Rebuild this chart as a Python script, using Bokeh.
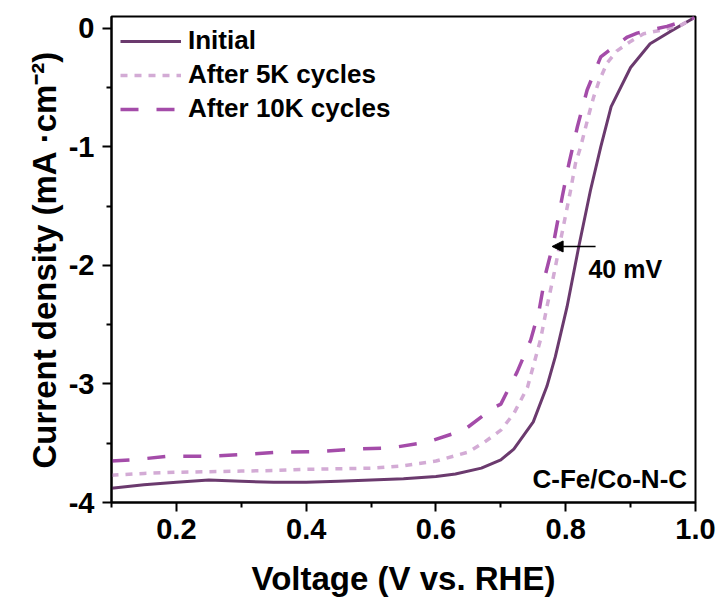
from bokeh.plotting import figure
from bokeh.models import (FixedTicker, Legend, LegendItem, Arrow, NormalHead,
                          Range1d, Label)
from bokeh.embed import file_html
from bokeh.resources import INLINE

# LSV polarisation curves of C-Fe/Co-N-C before and after cycling
v_initial = [0.10, 0.15, 0.20, 0.25, 0.30, 0.35, 0.40, 0.45, 0.50, 0.55, 0.60,
             0.63, 0.67, 0.70, 0.72, 0.75, 0.771, 0.784, 0.802, 0.820, 0.838,
             0.854, 0.870, 0.900, 0.930, 0.960, 0.998]
j_initial = [-3.88, -3.85, -3.83, -3.81, -3.82, -3.83, -3.83, -3.82, -3.81, -3.80, -3.78,
             -3.76, -3.71, -3.64, -3.55, -3.32, -3.02, -2.77, -2.35, -1.845, -1.37,
             -1.00, -0.66, -0.33, -0.13, -0.03, 0.09]

v_5k = [0.10, 0.15, 0.20, 0.25, 0.30, 0.35, 0.40, 0.45, 0.50, 0.55, 0.60, 0.65,
        0.675, 0.70, 0.72, 0.741, 0.761, 0.771, 0.782, 0.792, 0.807, 0.815, 0.823,
        0.836, 0.843, 0.851, 0.864, 0.879, 0.900, 0.920, 0.946, 0.977, 0.998]
j_5k = [-3.77, -3.755, -3.745, -3.74, -3.735, -3.73, -3.72, -3.715, -3.71, -3.69, -3.65, -3.575,
        -3.49, -3.39, -3.25, -3.03, -2.63, -2.35, -2.07, -1.79, -1.38, -1.14, -1.00,
        -0.72, -0.58, -0.45, -0.29, -0.19, -0.11, -0.045, -0.017, 0.025, 0.09]

v_10k = [0.10, 0.134, 0.186, 0.25, 0.30, 0.36, 0.417, 0.473, 0.53, 0.587, 0.643, 0.689,
         0.70, 0.725, 0.746, 0.759, 0.769, 0.782, 0.795, 0.805, 0.818, 0.833, 0.854,
         0.866, 0.895, 0.910, 0.956, 0.987, 0.998]
j_10k = [-3.65, -3.64, -3.61, -3.61, -3.595, -3.575, -3.57, -3.55, -3.54, -3.49, -3.39, -3.20,
         -3.17, -2.90, -2.63, -2.38, -2.07, -1.79, -1.41, -1.14, -0.83, -0.52, -0.24,
         -0.19, -0.073, -0.04, 0.017, 0.068, 0.09]

series_names = ["Initial", "After 5K cycles", "After 10K cycles"]

x_ticks = [0.2, 0.4, 0.6, 0.8, 1.0]
x_minor = [0.1, 0.3, 0.5, 0.7, 0.9]
y_ticks = [-4, -3, -2, -1, 0]
y_minor = [-3.5, -2.5, -1.5, -0.5]

# half-wave potential shift marker
shift_y = -1.84
shift_from = 0.846
shift_to = 0.779
shift_text = "40 mV"
sample_text = "C-Fe/Co-N-C"

FONT = "Liberation Sans"
C_INIT = "#6b3a6e"
C_5K = "#d3abd5"
C_10K = "#a44ca9"

p = figure(width=719, height=601, output_backend="svg", toolbar_location=None,
           x_range=Range1d(0.1, 1.0), y_range=Range1d(-4.0, 0.1),
           min_border_left=111, min_border_right=24, min_border_top=16,
           min_border_bottom=99)
p.grid.visible = False
p.background_fill_color = "white"
p.border_fill_color = "white"
p.outline_line_color = "black"
p.outline_line_width = 2

r0 = p.line(v_initial, j_initial, line_color=C_INIT, line_width=3)
r1 = p.line(v_5k, j_5k, line_color=C_5K, line_width=3.5, line_dash="7 7")
r2 = p.line(v_10k, j_10k, line_color=C_10K, line_width=3.5, line_dash="18 18")

for ax in (p.xaxis[0], p.yaxis[0]):
    ax.axis_line_width = 2
    ax.major_tick_line_width = 2
    ax.minor_tick_line_width = 2
    ax.major_tick_out = 9
    ax.major_tick_in = 0
    ax.minor_tick_out = 5
    ax.minor_tick_in = 0
    ax.major_label_text_font = FONT
    ax.major_label_text_font_style = "bold"
    ax.major_label_text_font_size = "29px"
    ax.major_label_text_color = "black"
    ax.axis_label_text_font = FONT
    ax.axis_label_text_font_style = "bold"
    ax.axis_label_text_font_size = "33px"
    ax.axis_label_text_color = "black"

p.xaxis.ticker = FixedTicker(ticks=x_ticks, minor_ticks=x_minor)
p.yaxis.ticker = FixedTicker(ticks=y_ticks, minor_ticks=y_minor)
p.xaxis.major_label_overrides = {t: f"{t:.1f}" for t in x_ticks}
p.yaxis.major_label_overrides = {t: str(t) for t in y_ticks}
p.xaxis.major_label_standoff = 7
p.yaxis.major_label_standoff = 8
p.xaxis.axis_label = "Voltage (V vs. RHE)"
p.yaxis.axis_label = "Current density (mA \u00b7cm\u207b\u00b2)"
p.xaxis.axis_label_standoff = 18
p.yaxis.axis_label_standoff = 3

legend = Legend(items=[LegendItem(label=series_names[0], renderers=[r0]),
                       LegendItem(label=series_names[1], renderers=[r1]),
                       LegendItem(label=series_names[2], renderers=[r2])],
                location="top_left", margin=9, padding=0, spacing=3,
                glyph_width=61, glyph_height=30, label_height=30,
                label_standoff=7, border_line_color=None,
                background_fill_alpha=0,
                label_text_font=FONT, label_text_font_style="bold",
                label_text_font_size="26px", label_text_color="black")
p.add_layout(legend)

p.add_layout(Arrow(end=NormalHead(size=11, fill_color="black", line_color="black",
                                  line_width=1),
                   x_start=shift_from, y_start=shift_y, x_end=shift_to, y_end=shift_y,
                   line_color="black", line_width=1.5))
p.add_layout(Label(x=0.835, y=-2.03, text=shift_text, text_font=FONT,
                   text_font_style="bold", text_font_size="25px",
                   text_baseline="middle", text_color="black"))
p.add_layout(Label(x=0.987, y=-3.80, text=sample_text, text_font=FONT,
                   text_font_style="bold", text_font_size="26px",
                   text_align="right", text_baseline="middle", text_color="black"))

open("out.html", "w").write(file_html(p, INLINE))
